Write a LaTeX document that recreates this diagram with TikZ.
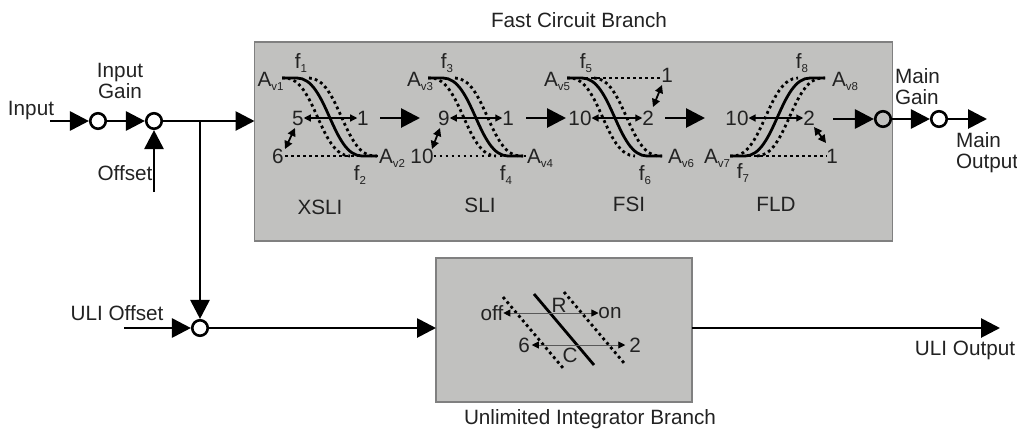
\documentclass[tikz,border=0pt]{standalone}
\usepackage{fontspec}
\setmainfont{Liberation Sans}
\usetikzlibrary{arrows.meta}
\definecolor{boxgrey}{HTML}{C1C1BF}
\definecolor{ink}{HTML}{222222}
\newcommand{\Av}[1]{A\raisebox{-4pt}{\fontsize{11.5}{12}\selectfont v#1}}
\newcommand{\Fq}[1]{f\raisebox{-4pt}{\fontsize{11.5}{12}\selectfont #1}}
\newcommand{\scurves}{%
  \draw[curve] (0,78) -- (15,78) .. controls (45,78) and (50,156) .. (80,156) -- (95,156);
  \draw[dotline] (0,78) -- (3,78) .. controls (33,78) and (38,156) .. (68,156);
  \draw[dotline] (27,78) .. controls (57,78) and (62,156) .. (92,156) -- (95,156);
}
\tikzset{
  lbl/.style={inner sep=0pt,outer sep=0pt,text=ink,font=\fontsize{20.7}{21}\selectfont,align=center},
  panel/.style={draw=black!50,line width=1.3pt,fill=boxgrey,inner sep=0pt,outer sep=0pt},
  junction/.style={circle,draw=black,line width=2.6pt,fill=white,minimum size=15.5pt,inner sep=0pt},
  junctiong/.style={junction,fill=boxgrey},
  flow/.style={line width=2.8pt,-{Triangle[length=19pt,width=19pt]}},
  curve/.style={line width=2.8pt},
  dotline/.style={line width=2.8pt,dash pattern=on 2.8pt off 3.2pt},
  span/.style={line width=1.2pt,{Triangle[length=7pt,width=7pt]}-{Triangle[length=7pt,width=7pt]}},
  tilt/.style={line width=1.8pt,{Triangle[length=8pt,width=8pt]}-{Triangle[length=8pt,width=8pt]}},
  thin span/.style={draw=black!65,line width=.9pt,{Triangle[length=7pt,width=7pt,black]}-{Triangle[length=7pt,width=7pt,black]}},
}
\begin{document}
\begin{tikzpicture}[x=1pt,y=-1pt]
\useasboundingbox (0,0) rectangle (1017,432);
% panels
\node[panel,minimum width=638pt,minimum height=199pt] (fast) at (573.5,141.5) {};
\node[panel,minimum width=256pt,minimum height=144pt] (uli) at (564,330) {};
\node[lbl] (fasttitle) at (579,20) {Fast Circuit Branch};
\node[lbl] (ulititle) at (590,419) {Unlimited Integrator Branch};
% input side
\node[junction] (cg) at (98,121) {};
\node[junction] (cs) at (154,121) {};
\node[junction] (cu) at (200,328) {};
\node[junctiong] (cm) at (883,119) {};
\node[junction] (co) at (939,119) {};
\coordinate (in) at (50,121);
\coordinate (off) at (154,192);
\coordinate (j) at (200,121);
\coordinate (ulioff) at (124,328);
\coordinate (mainout) at (987,119);
\coordinate (ulioutend) at (1000,328);
\draw[flow] (in) -- (cg);
\draw[flow] (cg) -- (cs);
\draw[flow] (off) -- (cs);
\draw[flow] (cs) -- (cs -| fast.west);
\draw[flow] (j) -- (cu);
\draw[flow] (ulioff) -- (cu);
\draw[flow] (cu) -- (cu -| uli.west);
\draw[flow] (uli.east |- cu) -- (ulioutend);
\draw[flow] (cm) -- (co);
\draw[flow] (co) -- (mainout);
\node[lbl] (linput) at (31,110.5) {Input};
\node[lbl] (lgain) at (120,81) {Input\\Gain};
\node[lbl] (loffset) at (125,173) {Offset};
\node[lbl] (luoff) at (117,313) {ULI Offset};
\node[lbl,align=left,anchor=west] (lmg) at (895,86.5) {Main\\Gain};
\node[lbl,align=left,anchor=west] (lmo) at (956,153) {Main\\Output};
\node[lbl] (luo) at (965,350) {ULI Output};
% stage curves
\begin{scope}[shift={(282,0)}]\scurves\end{scope}
\begin{scope}[shift={(428,0)}]\scurves\end{scope}
\begin{scope}[shift={(567,0)}]\scurves\end{scope}
\begin{scope}[shift={(730,234)},yscale=-1]\scurves\end{scope}
% XSLI
\node[lbl] (a1) at (270.5,81) {\Av{1}};
\node[lbl] (f1) at (301,63) {\Fq{1}};
\node[lbl] (x5) at (298,118) {5};
\node[lbl] (x1) at (363,118) {1};
\node[lbl] (x6) at (278,156) {6};
\node[lbl] (a2) at (392,158) {\Av{2}};
\node[lbl] (f2) at (360,175) {\Fq{2}};
\node[lbl] (xsli) at (320,207) {XSLI};
\draw[span] (x5) -- (x1);
\draw[dotline] (x6) ++(7,0) coordinate (x6r) -- (a2.west |- x6r);
\draw[tilt] (295,128) coordinate (xa) -- (285,149) coordinate (xb);
% SLI
\node[lbl] (a3) at (420,81) {\Av{3}};
\node[lbl] (f3) at (447,63) {\Fq{3}};
\node[lbl] (s9) at (444,118) {9};
\node[lbl] (s1) at (508,118) {1};
\node[lbl] (s10) at (422,156) {10};
\node[lbl] (a4) at (540,158) {\Av{4}};
\node[lbl] (f4) at (506,175) {\Fq{4}};
\node[lbl] (sli) at (480,205) {SLI};
\draw[span] (s9) -- (s1);
\draw[dotline] (s10.east) -- (a4.west |- s10);
\draw[tilt] (440,128) coordinate (sa) -- (432,149) coordinate (sb);
% FSI
\node[lbl] (a5) at (557,81) {\Av{5}};
\node[lbl] (f5) at (586,63) {\Fq{5}};
\node[lbl] (i1) at (667,75) {1};
\node[lbl] (i10) at (580,118) {10};
\node[lbl] (i2) at (648,118) {2};
\node[lbl] (a6) at (681,158) {\Av{6}};
\node[lbl] (f6) at (645,175) {\Fq{6}};
\node[lbl] (fsi) at (629,204) {FSI};
\draw[span] (i10) -- (i2);
\draw[dotline] (567,78) -- (660,78);
\draw[tilt] (662,85) coordinate (ia) -- (653,107) coordinate (ib);
% FLD
\node[lbl] (a7) at (717,158) {\Av{7}};
\node[lbl] (f7) at (743,173) {\Fq{7}};
\node[lbl] (f8) at (802,63) {\Fq{8}};
\node[lbl] (a8) at (845,81) {\Av{8}};
\node[lbl] (d10) at (737,118) {10};
\node[lbl] (d2) at (809,118) {2};
\node[lbl] (d1) at (832,156) {1};
\node[lbl] (fld) at (776,204) {FLD};
\draw[span] (d10) -- (d2);
\draw[dotline] (730,156) -- (d1.west);
\draw[tilt] (814,127) coordinate (da) -- (826,143) coordinate (db);
% stage arrows
\coordinate (t1) at (380,118);
\coordinate (h1) at (420,118);
\coordinate (t2) at (526,118);
\coordinate (h2) at (566,118);
\coordinate (t3) at (665,118);
\coordinate (h3) at (705,118);
\coordinate (t4) at (833,119);
\draw[flow] (t1) -- (h1);
\draw[flow] (t2) -- (h2);
\draw[flow] (t3) -- (h3);
\draw[flow] (t4) -- (cm);
% integrator
\draw[curve] (534,294) -- (594,365);
\draw[dotline] (503,297) -- (563,368);
\draw[dotline] (564,292) -- (624,363);
\node[lbl] (loff) at (492,313) {off};
\node[lbl] (lon) at (610,313) {on};
\node[lbl] (lr) at (559,305) {R};
\node[lbl] (lc) at (570,355) {C};
\node[lbl] (l6) at (524,345) {6};
\node[lbl] (l2) at (635,345) {2};
\draw[thin span] (loff) -- (lon);
\draw[thin span,shorten <=2pt,shorten >=4pt] (l6) -- (l2);
\end{tikzpicture}
\end{document}
